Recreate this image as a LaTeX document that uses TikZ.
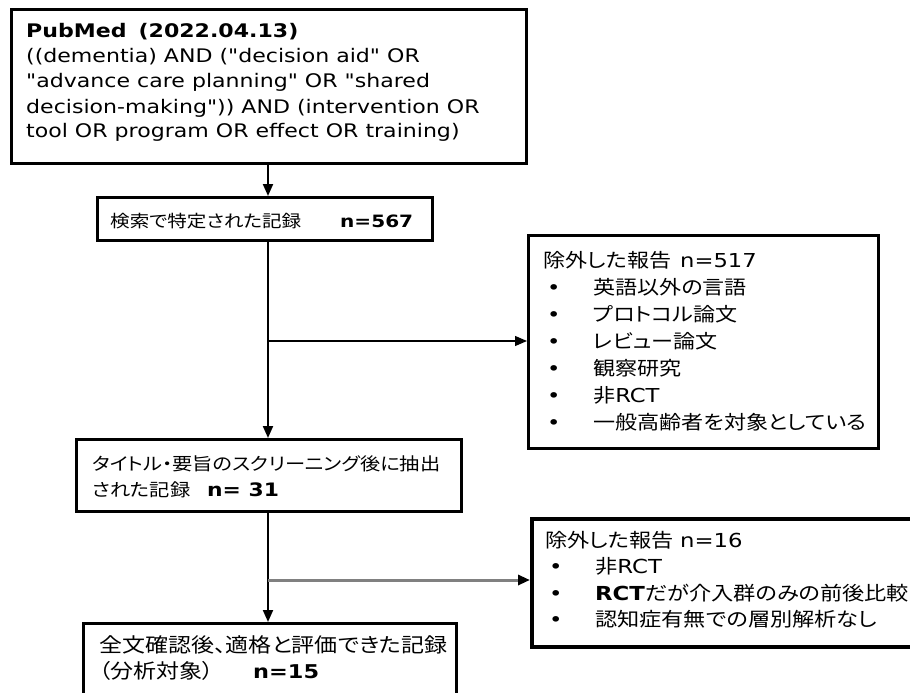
\documentclass[tikz,border=0pt]{standalone}
\usepackage{fontspec}
\setmainfont{DejaVu Sans}[FakeStretch=1.18,Ligatures=TeXOff]
\newfontfamily\jp{Noto Sans CJK JP}[FakeStretch=1.15,RawFeature={+palt}]
\usetikzlibrary{arrows.meta}
\definecolor{linegray}{RGB}{128,128,128}
\begin{document}
\begin{tikzpicture}[x=1pt,y=-1pt,
  box/.style={draw, line width=2.5pt, anchor=north west, inner sep=0},
  t/.style={anchor=base west, inner sep=0},
  arr/.style={-{Triangle[length=12pt,width=10pt]}},
  fa/.style={font=\fontsize{18.7}{24}\selectfont},
  fb/.style={font=\fontsize{17}{20}\selectfont},
  fc/.style={font=\fontsize{17.6}{24}\selectfont},
  fd/.style={font=\fontsize{19.2}{24}\selectfont},
  fe/.style={font=\fontsize{20}{24}\selectfont},
  ff/.style={font=\fontsize{19.3}{24}\selectfont}]
\useasboundingbox (0,0) rectangle (910,693);
\clip (0,0) rectangle (910,693);

% boxes
\node[box, line width=3pt, minimum width=515pt, minimum height=154pt] (b1) at (10,8) {};
\node[box, minimum width=335pt, minimum height=43pt] (b2) at (96,196) {};
\node[box, minimum width=385pt, minimum height=72pt] (b3) at (75,438) {};
\node[box, line width=3pt, minimum width=350pt, minimum height=213pt] (b4) at (527,234) {};
\node[box, minimum width=373pt, minimum height=90pt] (b5) at (82,622) {};
\node[box, line width=3.5pt, minimum width=400pt, minimum height=128pt] (b6) at (530,517) {};

% box 1 text
\node[t, font=\fontsize{18.7}{24}\selectfont\bfseries] (t1a) at (26,38) {PubMed\hspace{12pt}(2022.04.13)};
\node[t, fa] (t1b) at (26,63) {((dementia) AND ("decision aid" OR};
\node[t, fa] (t1c) at (26,88) {"advance care planning" OR "shared};
\node[t, fa] (t1d) at (26,113) {decision-making")) AND (intervention OR};
\node[t, fa] (t1e) at (26,137) {tool OR program OR effect OR training)};

% box 2 text
\node[t, fb] (t2a) at (110,227) {\jp 検索で特定された記録};
\node[t, font=\fontsize{17}{20}\selectfont\bfseries] (t2n) at (340,227) {n=567};

% box 3 text
\node[t, fc] (t3a) at (92,470) {\jp タイトル・要旨のスクリーニング後に抽出};
\node[t, fc] (t3b) at (92,496) {\jp された記録};
\node[t, font=\fontsize{18.5}{24}\selectfont\bfseries] (t3n) at (207,496) {n= 31};

% box 4 text
\node[t, fd] (t4a) at (543,267) {\jp 除外した報告};
\node[t, fd] (t4n) at (680,267) {n=517};
\node[t, fd] (u41) at (547,294) {•};
\node[t, fd] (i41) at (593,294) {\jp 英語以外の言語};
\node[t, fd] (u42) at (547,321) {•};
\node[t, fd] (i42) at (593,321) {\jp プロトコル論文};
\node[t, fd] (u43) at (547,348) {•};
\node[t, fd] (i43) at (593,348) {\jp レビュー論文};
\node[t, fd] (u44) at (547,375) {•};
\node[t, fd] (i44) at (593,375) {\jp 観察研究};
\node[t, fd] (u45) at (547,402) {•};
\node[t, fd] (i45) at (593,402) {{\jp 非}RCT};
\node[t, fd] (u46) at (547,429) {•};
\node[t, fd] (i46) at (593,429) {\jp 一般高齢者を対象としている};

% box 5 text
\node[t, fe] (t5a) at (99,652) {\jp 全文確認後、適格と評価できた記録};
\node[t, fe] (t5b) at (99,678) {\jp （分析対象）};
\node[t, font=\fontsize{19}{24}\selectfont\bfseries] (t5n) at (253,678) {n=15};

% box 6 text
\node[t, ff] (t6a) at (545,547) {\jp 除外した報告};
\node[t, ff] (t6n) at (680,547) {n=16};
\node[t, ff] (u61) at (549,573) {•};
\node[t, ff] (i61) at (595,573) {{\jp 非}RCT};
\node[t, ff] (u62) at (549,600) {•};
\node[t, ff] (i62) at (595,600) {\textbf{RCT}{\jp だが介入群のみの前後比較}};
\node[t, ff] (u63) at (549,626) {•};
\node[t, ff] (i63) at (595,626) {\jp 認知症有無での層別解析なし};

% connectors
\coordinate (sp) at (268,0);
\coordinate (j1) at (268,341);
\coordinate (j2) at (268,580);
\draw[line width=2pt, arr] (b1.south -| sp) -- (b2.north -| sp);
\draw[line width=2pt, arr] (b2.south -| sp) -- (b3.north -| sp);
\draw[line width=1.2pt, arr] (j1) -- (j1 -| b4.west);
\draw[line width=2pt, arr] (b3.south -| sp) -- (b5.north -| sp);
\draw[line width=3pt, linegray, -{Triangle[length=12pt,width=10pt,black]}] (j2) -- (j2 -| b6.west);
\end{tikzpicture}
\end{document}
